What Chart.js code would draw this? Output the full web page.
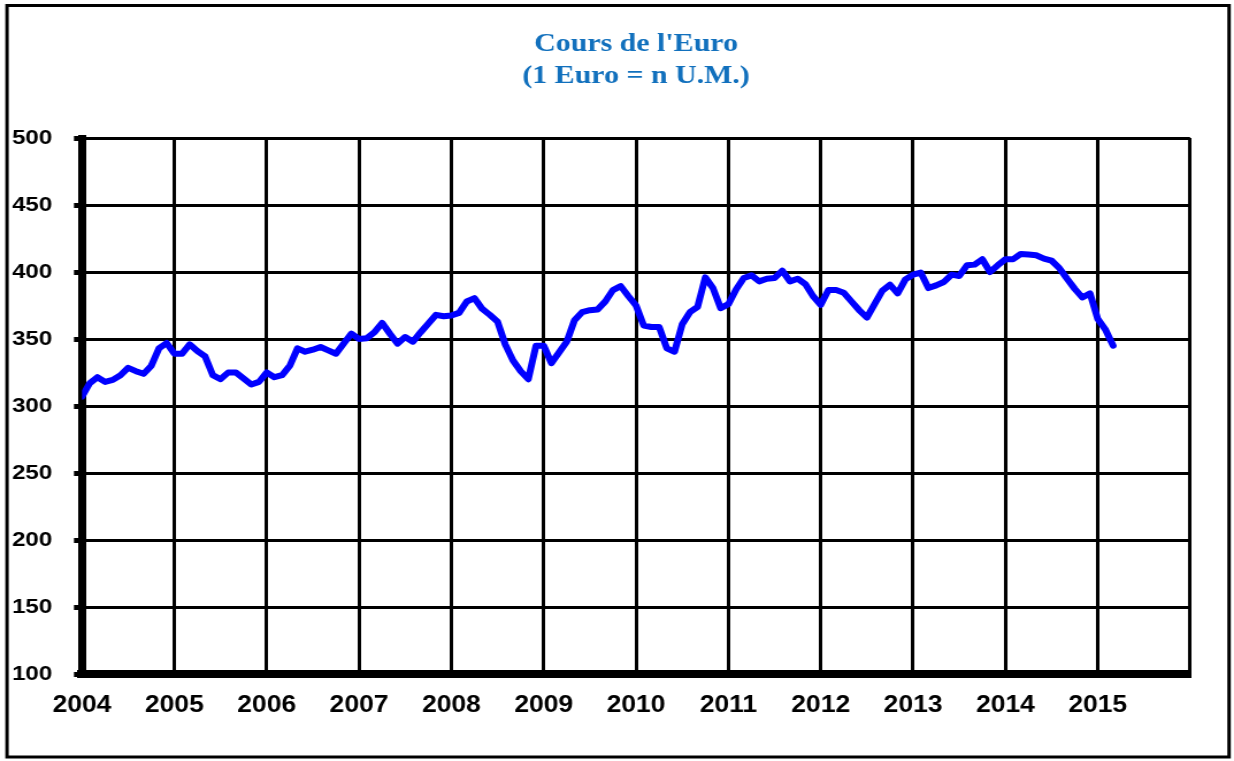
<!DOCTYPE html>
<html>
<head>
<meta charset="utf-8">
<script src="https://cdn.jsdelivr.net/npm/chart.js@4.4.1/dist/chart.umd.min.js"></script>
<style>
html,body{margin:0;padding:0;background:#fff;overflow:hidden}
</style>
</head>
<body>
<canvas id="c" width="1073" height="761" style="display:block;width:1234px;height:761px"></canvas>
<script>
// ---- data ----
const titleLines = ["Cours de l'Euro", "(1 Euro = n U.M.)"];
const years = ['2004','2005','2006','2007','2008','2009','2010','2011','2012','2013','2014','2015'];
const yTicks = [100, 150, 200, 250, 300, 350, 400, 450, 500];

const v2004 = [307, 317, 321.5, 318, 319.5, 323, 328.5, 326, 324, 330, 343, 347];
const v2005 = [339, 339, 346, 341, 337, 323, 320, 325, 325, 320.5, 316, 318];
const v2006 = [325, 321.5, 323, 330, 343, 340.5, 342, 344, 341.5, 339, 346.5, 354];
const v2007 = [350, 350.5, 355, 362, 354, 346.5, 351.5, 348, 355, 361.5, 368, 367];
const v2008 = [367.5, 369.5, 378, 380.5, 372.5, 368, 363, 346, 334, 326, 320, 345];
const v2009 = [345, 332, 340, 348, 364, 370, 371.5, 372, 378, 386.5, 389.5, 382];
const v2010 = [375, 360, 359, 359, 343, 340.5, 361, 370, 374, 396, 388, 373];
const v2011 = [376, 387, 395.5, 397.5, 393, 395, 395.5, 401, 393, 395, 391, 382];
const v2012 = [375.5, 386.5, 386.5, 384.5, 378, 371.5, 366, 376, 386, 390.5, 384, 394.5];
const v2013 = [398, 399.5, 388, 390, 392.5, 398, 397, 405, 405.5, 409.5, 400, 405];
const v2014 = [409.5, 409.5, 413.5, 413, 412.5, 410, 408.5, 403, 395, 387.5, 381, 384];
const v2015 = [365, 357, 345];

const monthly = [].concat(v2004, v2005, v2006, v2007, v2008, v2009, v2010, v2011, v2012, v2013, v2014, v2015);
const points = monthly.map((v, i) => ({ x: i, y: v }));

// ---- chart ----
const framePlugin = {
  id: 'frame',
  beforeDraw(chart) {
    const ctx = chart.ctx;
    ctx.save();
    ctx.fillStyle = '#ffffff';
    ctx.fillRect(0, 0, chart.width, chart.height);
    ctx.strokeStyle = '#000000';
    ctx.lineWidth = 3;
    ctx.strokeRect(6.1, 5.5, 1062.6, 751.5);
    ctx.restore();
  }
};

new Chart(document.getElementById('c'), {
  type: 'line',
  data: {
    datasets: [{
      data: points,
      borderColor: '#0000ff',
      borderWidth: 6,
      pointRadius: 0,
      tension: 0,
      fill: false,
      borderJoinStyle: 'round',
      borderCapStyle: 'round'
    }]
  },
  options: {
    responsive: false,
    animation: false,
    devicePixelRatio: 1,
    layout: { padding: { left: 10.4, right: 38.2, top: 0, bottom: 37 } },
    plugins: {
      legend: { display: false },
      tooltip: { enabled: false },
      title: {
        display: true,
        fullSize: false,
        text: titleLines,
        color: '#1170bd',
        font: { family: "'Liberation Serif','Times New Roman',serif", size: 26, weight: 'bold', lineHeight: 1.2 },
        padding: { top: 29, bottom: 46.6 }
      }
    },
    scales: {
      x: {
        type: 'linear',
        min: 0,
        max: 144,
        afterFit(scale) { scale.height = 50; },
        ticks: {
          stepSize: 12,
          autoSkip: false,
          maxRotation: 0,
          padding: 18,
          color: '#000',
          font: { family: "'Liberation Sans',Arial,sans-serif", size: 23, weight: 'bold' },
          callback(val) { const k = Math.round(val / 12); return k < years.length ? years[k] : ''; }
        },
        grid: { color: '#000', lineWidth: 3, drawTicks: false },
        border: { display: true, color: '#000', width: 8 }
      },
      y: {
        min: yTicks[0],
        max: yTicks[yTicks.length - 1],
        afterFit(scale) { scale.width = 60.9; },
        afterBuildTicks(scale) { scale.ticks = yTicks.map(v => ({ value: v })); },
        ticks: {
          crossAlign: 'far',
          color: '#000',
          font: { family: "'Liberation Sans',Arial,sans-serif", size: 21, weight: 'bold' },
          callback(val) { return String(val); }
        },
        grid: { color: '#000', lineWidth: 3, drawTicks: true, tickLength: 7, tickWidth: 5, tickColor: '#000' },
        border: { display: true, color: '#000', width: 7 }
      }
    }
  },
  plugins: [framePlugin]
});
</script>
</body>
</html>
